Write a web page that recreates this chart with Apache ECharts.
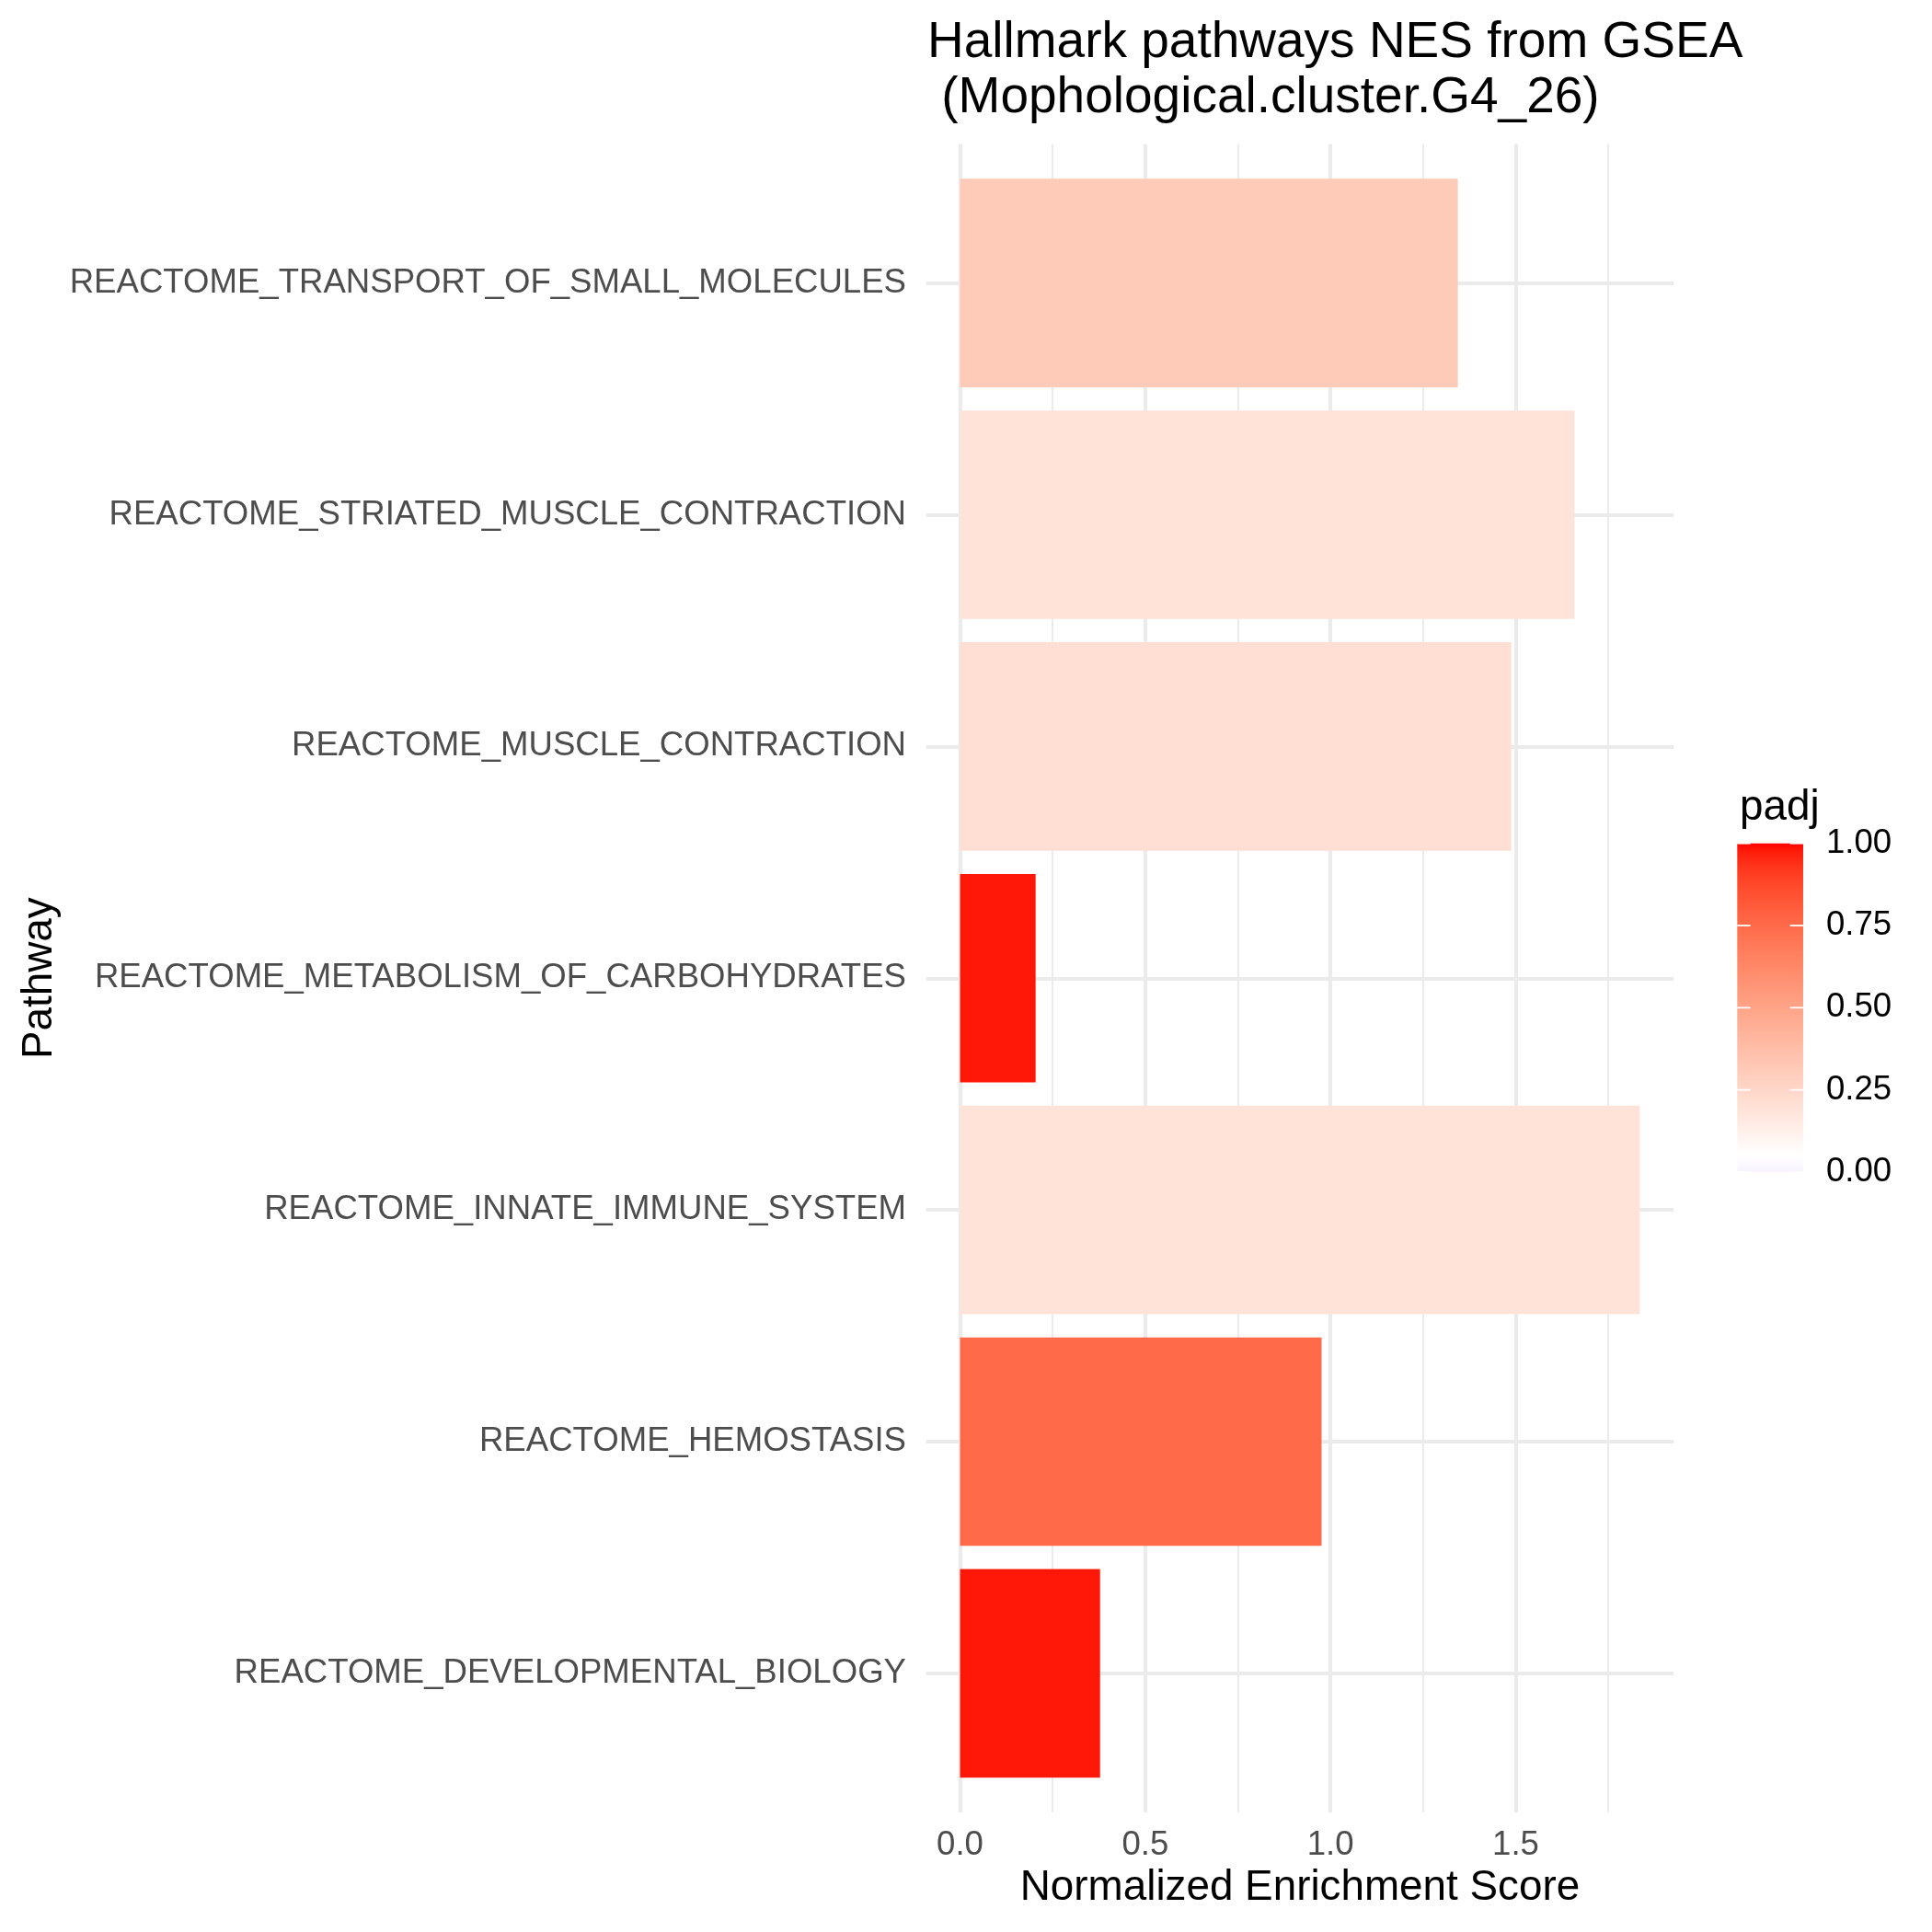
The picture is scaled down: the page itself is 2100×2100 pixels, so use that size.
<!DOCTYPE html>
<html>
<head>
<meta charset="utf-8">
<script src="https://cdn.jsdelivr.net/npm/echarts@6/dist/echarts.min.js"></script>
<style>html,body{margin:0;padding:0;background:#fff;}#c{width:2100px;height:2100px;}</style>
</head>
<body>
<div id="c"></div>
<script>
// ---- data ----
const pathways = [
  'REACTOME_TRANSPORT_OF_SMALL_MOLECULES',
  'REACTOME_STRIATED_MUSCLE_CONTRACTION',
  'REACTOME_MUSCLE_CONTRACTION',
  'REACTOME_METABOLISM_OF_CARBOHYDRATES',
  'REACTOME_INNATE_IMMUNE_SYSTEM',
  'REACTOME_HEMOSTASIS',
  'REACTOME_DEVELOPMENTAL_BIOLOGY'
];
const nes  = [1.344, 1.659, 1.488, 0.204, 1.835, 0.976, 0.378];
const padj = [0.31, 0.19, 0.21, 0.98, 0.19, 0.75, 0.98];
const xMajorTicks = [0, 0.5, 1, 1.5];
const xMinorTicks = [0.25, 0.75, 1.25, 1.75];
const legendTicks = [0, 0.25, 0.5, 0.75, 1];

// ---- colour scale (Lab gradient: blue - white - red, midpoint 0.05) ----
function toLin(c){c/=255;return c<=0.04045?c/12.92:Math.pow((c+0.055)/1.055,2.4);}
function toS(c){const v=c<=0.0031308?12.92*c:1.055*Math.pow(c,1/2.4)-0.055;return Math.round(Math.max(0,Math.min(1,v))*255);}
function rgb2lab(r,g,b){
  const R=toLin(r),G=toLin(g),B=toLin(b);
  const X=(0.4124*R+0.3576*G+0.1805*B)/0.95047, Y=0.2126*R+0.7152*G+0.0722*B, Z=(0.0193*R+0.1192*G+0.9505*B)/1.08883;
  const f=t=>t>0.008856?Math.cbrt(t):7.787*t+16/116;
  return [116*f(Y)-16, 500*(f(X)-f(Y)), 200*(f(Y)-f(Z))];
}
function lab2rgb(L,a,b){
  const fy=(L+16)/116, fx=fy+a/500, fz=fy-b/200;
  const fi=t=>t>0.206893?t*t*t:(t-16/116)/7.787;
  const X=fi(fx)*0.95047, Y=fi(fy), Z=fi(fz)*1.08883;
  const R= 3.2406*X-1.5372*Y-0.4986*Z, G=-0.9689*X+1.8758*Y+0.0415*Z, B=0.0557*X-0.2040*Y+1.0570*Z;
  return 'rgb('+toS(R)+','+toS(G)+','+toS(B)+')';
}
const labLow=rgb2lab(0,0,255), labMid=rgb2lab(255,255,255), labHigh=rgb2lab(255,0,0);
const MID=0.05;
function scaleColor(v){
  let n=(v-MID)/Math.max(Math.abs(0-MID),Math.abs(1-MID))/2+0.5;
  let A,Bc,t;
  if(n<0.5){A=labLow;Bc=labMid;t=n/0.5;} else {A=labMid;Bc=labHigh;t=(n-0.5)/0.5;}
  return lab2rgb(A[0]+(Bc[0]-A[0])*t, A[1]+(Bc[1]-A[1])*t, A[2]+(Bc[2]-A[2])*t);
}
const NSTOP=80;
const stopColors=[]; const gradStops=[];
for(let i=0;i<=NSTOP;i++){const v=i/NSTOP;const c=scaleColor(v);stopColors.push(c);gradStops.push({offset:v,color:c});}

const FONT='"Liberation Sans", Arial, Helvetica, sans-serif';
const maxN=Math.max(...nes);
const xMin=-0.05*maxN, xMax=1.05*maxN;

const barData = nes.map((v,i)=>[v, i+1, padj[i]]);

const chart = echarts.init(document.getElementById('c'), null, {renderer:'canvas'});
chart.setOption({
  backgroundColor:'#ffffff',
  animation:false,
  textStyle:{fontFamily:FONT},
  title:[
    {text:'Hallmark pathways NES from GSEA\n (Mophological.cluster.G4_26)', left:1003, top:12,
     textStyle:{fontFamily:FONT, fontSize:55, fontWeight:'normal', color:'#000', lineHeight:60}},
    {text:'padj', left:1886, top:850,
     textStyle:{fontFamily:FONT, fontSize:45.8, fontWeight:'normal', color:'#000', lineHeight:46}}
  ],
  visualMap:{type:'continuous', show:false, seriesIndex:0, dimension:2, min:0, max:1, inRange:{color:stopColors}},
  grid:[
    {left:1006.6, top:156.5, width:812.7, height:1813.5, containLabel:false},
    {left:1888.3, top:916.7, width:71.7, height:357.3, containLabel:false}
  ],
  xAxis:[
    {type:'value', gridIndex:0, min:xMin, max:xMax,
     name:'Normalized Enrichment Score', nameLocation:'middle', nameGap:58,
     nameTextStyle:{fontFamily:FONT, fontSize:45.8, color:'#000'},
     axisLine:{show:false},
     axisTick:{show:false, customValues:xMajorTicks},
     axisLabel:{show:true, customValues:xMajorTicks, formatter:v=>v.toFixed(1), fontFamily:FONT, fontSize:36.6, color:'#4d4d4d', margin:17},
     splitLine:{show:true, lineStyle:{color:'#ebebeb', width:4.2}}},
    {type:'value', gridIndex:0, min:xMin, max:xMax, position:'bottom',
     axisLine:{show:false},
     axisTick:{show:false, customValues:xMinorTicks},
     axisLabel:{show:false, customValues:xMinorTicks},
     splitLine:{show:true, lineStyle:{color:'#ebebeb', width:2.1}}},
    {type:'value', gridIndex:1, min:0, max:1, show:false}
  ],
  yAxis:[
    {type:'value', gridIndex:0, min:0.4, max:7.6, inverse:true,
     name:'Pathway', nameLocation:'middle', nameGap:940, nameRotate:90,
     nameTextStyle:{fontFamily:FONT, fontSize:45.8, color:'#000'},
     axisLine:{show:false},
     axisTick:{show:false, customValues:[1,2,3,4,5,6,7]},
     axisLabel:{show:true, customValues:[1,2,3,4,5,6,7], formatter:v=>pathways[Math.round(v)-1], fontFamily:FONT, fontSize:36.6, color:'#4d4d4d', margin:21.6, padding:[3,0,0,0]},
     splitLine:{show:true, lineStyle:{color:'#ebebeb', width:4.2}}},
    {type:'value', gridIndex:1, min:0, max:1, interval:0.25, position:'right',
     axisLine:{show:false},
     axisTick:{show:false},
     axisLabel:{show:true, customValues:legendTicks, formatter:v=>v.toFixed(2), fontFamily:FONT, fontSize:36.6, color:'#000', margin:25},
     splitLine:{show:false}}
  ],
  series:[
    {type:'custom', xAxisIndex:0, yAxisIndex:0, z:2,
     encode:{x:0, y:1},
     data:barData,
     renderItem:function(params, api){
       const y=api.value(1), v=api.value(0);
       const s=api.coord([0,y]), e=api.coord([v,y]);
       const h=api.size([0,0.9])[1];
       return {type:'rect', shape:{x:s[0], y:s[1]-h/2, width:e[0]-s[0], height:h}, style:{fill:api.visual('color')}};
     }},
    {type:'custom', xAxisIndex:2, yAxisIndex:1, z:1,
     encode:{x:0, y:1},
     data:[[0,0,1,1]],
     renderItem:function(params, api){
       const p0=api.coord([api.value(0), api.value(1)]), p1=api.coord([api.value(2), api.value(3)]);
       return {type:'rect', shape:{x:p0[0], y:p1[1], width:p1[0]-p0[0], height:p0[1]-p1[1]},
         style:{fill:new echarts.graphic.LinearGradient(0,1,0,0,gradStops)}};
     }},
    {type:'custom', xAxisIndex:2, yAxisIndex:1, z:3,
     encode:{x:0, y:0},
     data:legendTicks.map(v=>[v]),
     renderItem:function(params, api){
       const v=api.value(0);
       const a=api.coord([0,v]), b=api.coord([0.2,v]), c=api.coord([0.8,v]), d=api.coord([1,v]);
       const st={stroke:'#ffffff', lineWidth:1.8};
       return {type:'group', children:[
         {type:'line', shape:{x1:a[0],y1:a[1],x2:b[0],y2:b[1]}, style:st},
         {type:'line', shape:{x1:c[0],y1:c[1],x2:d[0],y2:d[1]}, style:st}
       ]};
     }}
  ]
});
</script>
</body>
</html>
